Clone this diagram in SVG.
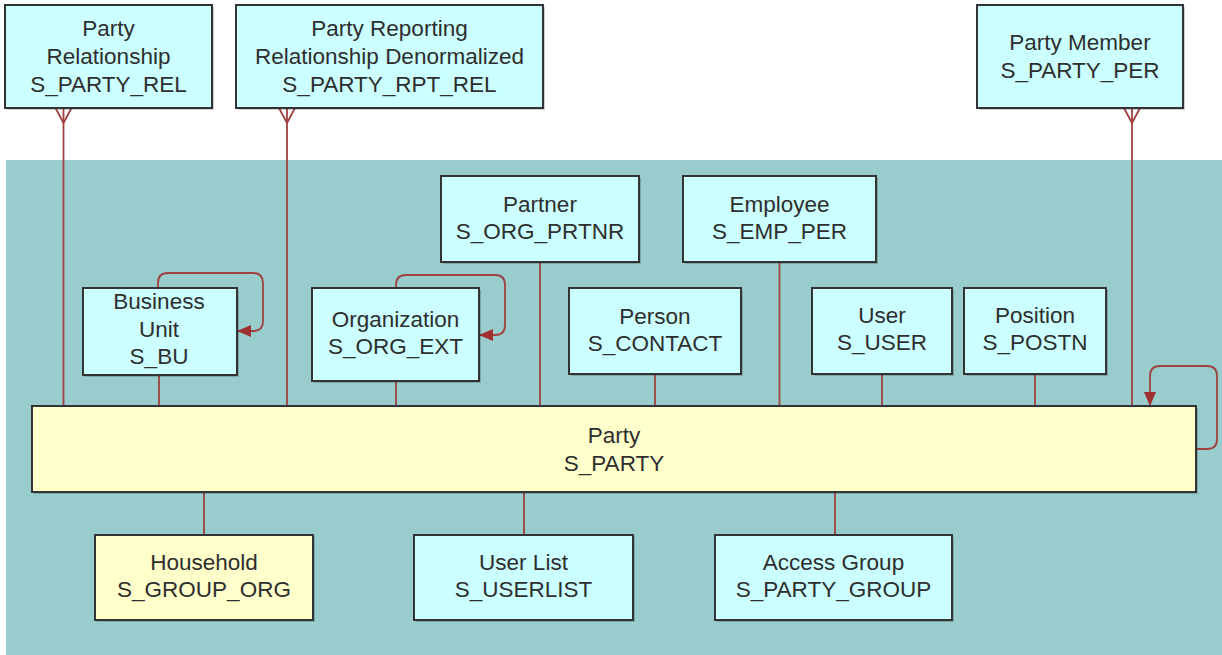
<svg xmlns="http://www.w3.org/2000/svg" width="1222" height="655" viewBox="0 0 1222 655">
<style>
  .box{stroke:#333;stroke-width:2;}
  .ent{fill:#ccffff;}
  .yel{fill:#ffffcc;}
  .sh{fill:#000;opacity:0.18;}
  text{font-family:"Liberation Sans",Arial,sans-serif;font-size:22.5px;fill:#2e2e2e;text-anchor:middle;}
  .c{fill:none;stroke:#a04040;stroke-width:1.8;}
</style>
<defs>
  <marker id="crow" markerUnits="userSpaceOnUse" markerWidth="20" markerHeight="20" refX="0" refY="10" viewBox="0 0 20 20" orient="auto">
    <path d="M0,2 L15,10 L0,18" fill="none" stroke="#a04040" stroke-width="1.8"/>
  </marker>
  <marker id="arr" markerUnits="userSpaceOnUse" markerWidth="14" markerHeight="12" refX="13" refY="6" viewBox="0 0 14 12" orient="auto">
    <path d="M0,0 L14,6 L0,12 z" fill="#a03030"/>
  </marker>
</defs>
<rect x="0" y="0" width="1222" height="655" fill="#ffffff"/>
<rect id="bg" x="6" y="160" width="1216" height="495" fill="#99cccc"/>

<g id="connectors">
  <path class="c" d="M63.5,108 V406" marker-start="url(#crow)"/>
  <path class="c" d="M287,108 V406" marker-start="url(#crow)"/>
  <path class="c" d="M1132,108 V406" marker-start="url(#crow)"/>
  <path class="c" d="M540,262 V406"/>
  <path class="c" d="M779.5,262 V406"/>
  <path class="c" d="M159,375 V406"/>
  <path class="c" d="M396,381 V406"/>
  <path class="c" d="M655,374 V406"/>
  <path class="c" d="M882,374 V406"/>
  <path class="c" d="M1035,374 V406"/>
  <path class="c" d="M204,492 V535"/>
  <path class="c" d="M524,492 V535"/>
  <path class="c" d="M835,492 V535"/>
  <path class="c" d="M158,288 V283 Q158,273 168,273 H253 Q263,273 263,283 V321 Q263,331 253,331 H238" marker-end="url(#arr)"/>
  <path class="c" d="M396,288 V285 Q396,275 406,275 H495 Q505,275 505,285 V325 Q505,335 495,335 H480" marker-end="url(#arr)"/>
  <path class="c" d="M1196,449 H1207 Q1217,449 1217,439 V376 Q1217,366 1207,366 H1160 Q1150,366 1150,376 V405" marker-end="url(#arr)"/>
</g>

<g id="party_rel">
  <rect class="sh" x="7" y="7" width="207" height="103"/>
  <rect class="box ent" x="5" y="5" width="207" height="103"/>
  <text x="108.5" y="36">Party</text>
  <text x="108.5" y="64">Relationship</text>
  <text x="108.5" y="92">S_PARTY_REL</text>
</g>
<g id="party_rpt_rel">
  <rect class="sh" x="238" y="7" width="307" height="103"/>
  <rect class="box ent" x="236" y="5" width="307" height="103"/>
  <text x="389.5" y="36">Party Reporting</text>
  <text x="389.5" y="64">Relationship Denormalized</text>
  <text x="389.5" y="92">S_PARTY_RPT_REL</text>
</g>
<g id="party_per">
  <rect class="sh" x="979" y="7" width="206" height="103"/>
  <rect class="box ent" x="977" y="5" width="206" height="103"/>
  <text x="1080" y="49.5">Party Member</text>
  <text x="1080" y="77.5">S_PARTY_PER</text>
</g>
<g id="partner">
  <rect class="sh" x="443" y="178" width="198" height="86"/>
  <rect class="box ent" x="441" y="176" width="198" height="86"/>
  <text x="540" y="212">Partner</text>
  <text x="540" y="239">S_ORG_PRTNR</text>
</g>
<g id="employee">
  <rect class="sh" x="685" y="178" width="193" height="86"/>
  <rect class="box ent" x="683" y="176" width="193" height="86"/>
  <text x="779.5" y="212">Employee</text>
  <text x="779.5" y="239">S_EMP_PER</text>
</g>
<g id="bu">
  <rect class="sh" x="85" y="290" width="154" height="87"/>
  <rect class="box ent" x="83" y="288" width="154" height="87"/>
  <text x="159" y="309">Business</text>
  <text x="159" y="337">Unit</text>
  <text x="159" y="364">S_BU</text>
</g>
<g id="org">
  <rect class="sh" x="314" y="290" width="167" height="93"/>
  <rect class="box ent" x="312" y="288" width="167" height="93"/>
  <text x="395.5" y="327">Organization</text>
  <text x="395.5" y="354">S_ORG_EXT</text>
</g>
<g id="person">
  <rect class="sh" x="571" y="290" width="172" height="86"/>
  <rect class="box ent" x="569" y="288" width="172" height="86"/>
  <text x="655" y="323.5">Person</text>
  <text x="655" y="351">S_CONTACT</text>
</g>
<g id="user">
  <rect class="sh" x="814" y="290" width="140" height="86"/>
  <rect class="box ent" x="812" y="288" width="140" height="86"/>
  <text x="882" y="323">User</text>
  <text x="882" y="350">S_USER</text>
</g>
<g id="position">
  <rect class="sh" x="966" y="290" width="142" height="86"/>
  <rect class="box ent" x="964" y="288" width="142" height="86"/>
  <text x="1035" y="323">Position</text>
  <text x="1035" y="350">S_POSTN</text>
</g>
<g id="party">
  <rect class="sh" x="34" y="408" width="1164" height="86"/>
  <rect class="box yel" x="32" y="406" width="1164" height="86"/>
  <text x="614" y="443">Party</text>
  <text x="614" y="471">S_PARTY</text>
</g>
<g id="household">
  <rect class="sh" x="97" y="537" width="218" height="85"/>
  <rect class="box yel" x="95" y="535" width="218" height="85"/>
  <text x="204" y="570">Household</text>
  <text x="204" y="597">S_GROUP_ORG</text>
</g>
<g id="userlist">
  <rect class="sh" x="416" y="537" width="219" height="85"/>
  <rect class="box ent" x="414" y="535" width="219" height="85"/>
  <text x="523.5" y="570">User List</text>
  <text x="523.5" y="597">S_USERLIST</text>
</g>
<g id="accessgroup">
  <rect class="sh" x="717" y="537" width="237" height="85"/>
  <rect class="box ent" x="715" y="535" width="237" height="85"/>
  <text x="833.5" y="570">Access Group</text>
  <text x="833.5" y="597">S_PARTY_GROUP</text>
</g>
</svg>
